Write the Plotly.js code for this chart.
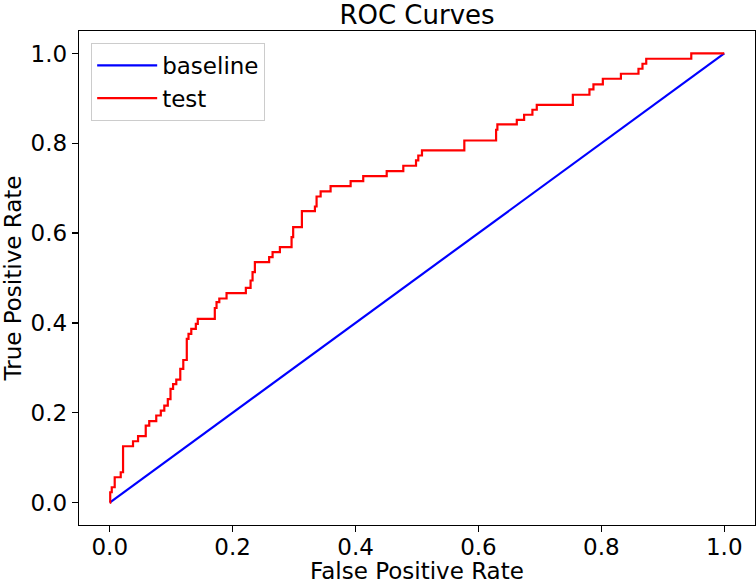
<!DOCTYPE html>
<html>
<head>
<meta charset="utf-8">
<script src="https://cdn.plot.ly/plotly-3.0.1.min.js"></script>
<style>
  html, body { margin: 0; padding: 0; background: #fff; }
  #chart { width: 756px; height: 584px; }
</style>
</head>
<body>
<div id="chart"></div>
<script>
// Baseline (chance) line
const baselineFpr = [0, 1];
const baselineTpr = [0, 1];

// Test ROC curve corner points
const testFpr = [0, 0.0008, 0.0033, 0.0081, 0.0179, 0.0217, 0.0379, 0.0461, 0.0586, 0.0643,
  0.0757, 0.0831, 0.0888, 0.0945, 0.0989, 0.1031, 0.1083, 0.1148, 0.1197, 0.1254,
  0.1282, 0.1327, 0.1401, 0.1433, 0.1710, 0.1738, 0.1783, 0.1901, 0.2215, 0.2292,
  0.2324, 0.2362, 0.2594, 0.2650, 0.2769, 0.2959, 0.2985, 0.3127, 0.3339, 0.3366,
  0.3432, 0.3594, 0.3920, 0.4125, 0.4507, 0.4777, 0.4984, 0.5021, 0.5081, 0.5770,
  0.6287, 0.6308, 0.6624, 0.6743, 0.6878, 0.6949, 0.7536, 0.7806, 0.7871, 0.8024,
  0.8318, 0.8604, 0.8669, 0.8730, 0.9463, 1.0];
const testTpr = [0, 0.0229, 0.0341, 0.0563, 0.0675, 0.1254, 0.1365, 0.1481, 0.1715, 0.1815,
  0.1938, 0.2049, 0.2160, 0.2305, 0.2532, 0.2639, 0.2739, 0.2978, 0.3174, 0.3646,
  0.3757, 0.3869, 0.3980, 0.4091, 0.4332, 0.4461, 0.4543, 0.4662, 0.4782, 0.4944,
  0.5129, 0.5352, 0.5463, 0.5575, 0.5686, 0.5909, 0.6131, 0.6488, 0.6592, 0.6815,
  0.6927, 0.7045, 0.7156, 0.7267, 0.7379, 0.7499, 0.7617, 0.7728, 0.7840, 0.8062,
  0.8301, 0.8419, 0.8523, 0.8635, 0.8746, 0.8857, 0.9080, 0.9198, 0.9310, 0.9437,
  0.9548, 0.9659, 0.9771, 0.9882, 1.0, 1.0];

const tickVals = [0, 0.2, 0.4, 0.6, 0.8, 1.0];
const tickText = ["0.0", "0.2", "0.4", "0.6", "0.8", "1.0"];

const font = "DejaVu Sans, sans-serif";
const fs = 23;

const traces = [
  {
    x: baselineFpr, y: baselineTpr, name: "baseline", mode: "lines", type: "scatter",
    line: { color: "#0000ff", width: 2.2 }
  },
  {
    x: testFpr, y: testTpr, name: "test", mode: "lines", type: "scatter",
    line: { color: "#ff0000", width: 2.2, shape: "hv" }
  }
];

const axisCommon = {
  range: [-0.05, 1.05],
  tickvals: tickVals,
  ticktext: tickText,
  showgrid: false,
  zeroline: false,
  showline: true,
  mirror: true,
  linecolor: "#000",
  linewidth: 1.2,
  ticks: "outside",
  ticklen: 6,
  tickwidth: 1.2,
  tickcolor: "#000",
  automargin: false,
  tickfont: { family: font, size: fs, color: "#000" }
};

const layout = {
  width: 756, height: 584,
  margin: { l: 79, r: 1, t: 31, b: 59 },
  paper_bgcolor: "#fff",
  plot_bgcolor: "#fff",
  font: { family: font, color: "#000" },
  title: {
    text: "ROC Curves",
    font: { family: font, size: 26, color: "#000" },
    xref: "paper", x: 0.5, xanchor: "center",
    yref: "container", y: 0.974, yanchor: "middle"
  },
  xaxis: Object.assign({}, axisCommon, {
    ticklabelstandoff: -5,
    title: { text: "False Positive Rate", font: { family: font, size: fs, color: "#000" }, standoff: 2 }
  }),
  yaxis: Object.assign({}, axisCommon, {
    title: { text: "True Positive Rate", font: { family: font, size: fs, color: "#000" }, standoff: 3 }
  }),
  showlegend: true,
  legend: {
    x: 0.018, y: 0.976, xanchor: "left", yanchor: "top",
    bgcolor: "rgba(255,255,255,0.8)",
    bordercolor: "#cccccc", borderwidth: 1,
    font: { family: font, size: fs, color: "#000" },
    tracegroupgap: 0,
    itemwidth: 60
  }
};

Plotly.newPlot("chart", traces, layout, { displayModeBar: false, staticPlot: true });
</script>
</body>
</html>
